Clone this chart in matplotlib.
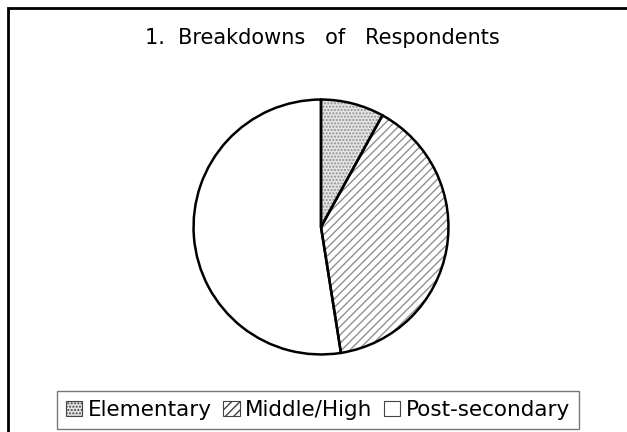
import matplotlib
matplotlib.use('Agg')
import matplotlib.pyplot as plt
from matplotlib.patches import Patch, Rectangle

plt.rcParams['font.family'] = ['DejaVu Sans']
plt.rcParams['hatch.linewidth'] = 1.0

title = '1.  Breakdowns   of   Respondents'
categories = ['Elementary', 'Middle/High', 'Post-secondary']
shares = [8.0, 39.5, 52.5]
hatches = ['.....', '////', '']
fills = ['#e4e4e4', 'white', 'white']
hatch_gray = '#909090'

fig = plt.figure(figsize=(6.27, 4.32), dpi=100)
W, H = 627, 432

# outer frame, cut off at right and bottom like the original
fig.patches.append(Rectangle((8 / W, -0.1), 1.1, (432 - 8) / H + 0.1,
                             transform=fig.transFigure, fill=False,
                             edgecolor='black', linewidth=2.0))

fig.text(322 / W, 1 - 38 / H, title, ha='center', va='center', fontsize=15)

ax = fig.add_axes([191 / W, (H - 357) / H, 260 / W, 260 / H])
# first pass: fills and gray hatching, second pass: black outlines
wedges, _ = ax.pie(shares, startangle=90, counterclock=False,
                   colors=fills,
                   wedgeprops=dict(edgecolor=hatch_gray, linewidth=0))
for w, h in zip(wedges, hatches):
    w.set_hatch(h)
ax.pie(shares, startangle=90, counterclock=False,
       wedgeprops=dict(fill=False, edgecolor='black', linewidth=1.8))
ax.set_xlim(-1.02, 1.02)
ax.set_ylim(-1.02, 1.02)
ax.set_aspect('equal')
ax.axis('off')

handles = [Patch(facecolor=f, edgecolor='#444444', hatch=h, linewidth=0.8)
           for f, h in zip(fills, hatches)]
leg = fig.legend(handles, categories, loc='center', ncol=3,
                 bbox_to_anchor=(318 / W, 1 - 410 / H), fontsize=15.5,
                 frameon=True, fancybox=False, handlelength=0.75,
                 handleheight=0.75, handletextpad=0.25, columnspacing=0.55,
                 borderpad=0.4, borderaxespad=0)
leg.get_frame().set_edgecolor('#555555')
leg.get_frame().set_linewidth(1.0)

fig.savefig('out.png', dpi=100)
